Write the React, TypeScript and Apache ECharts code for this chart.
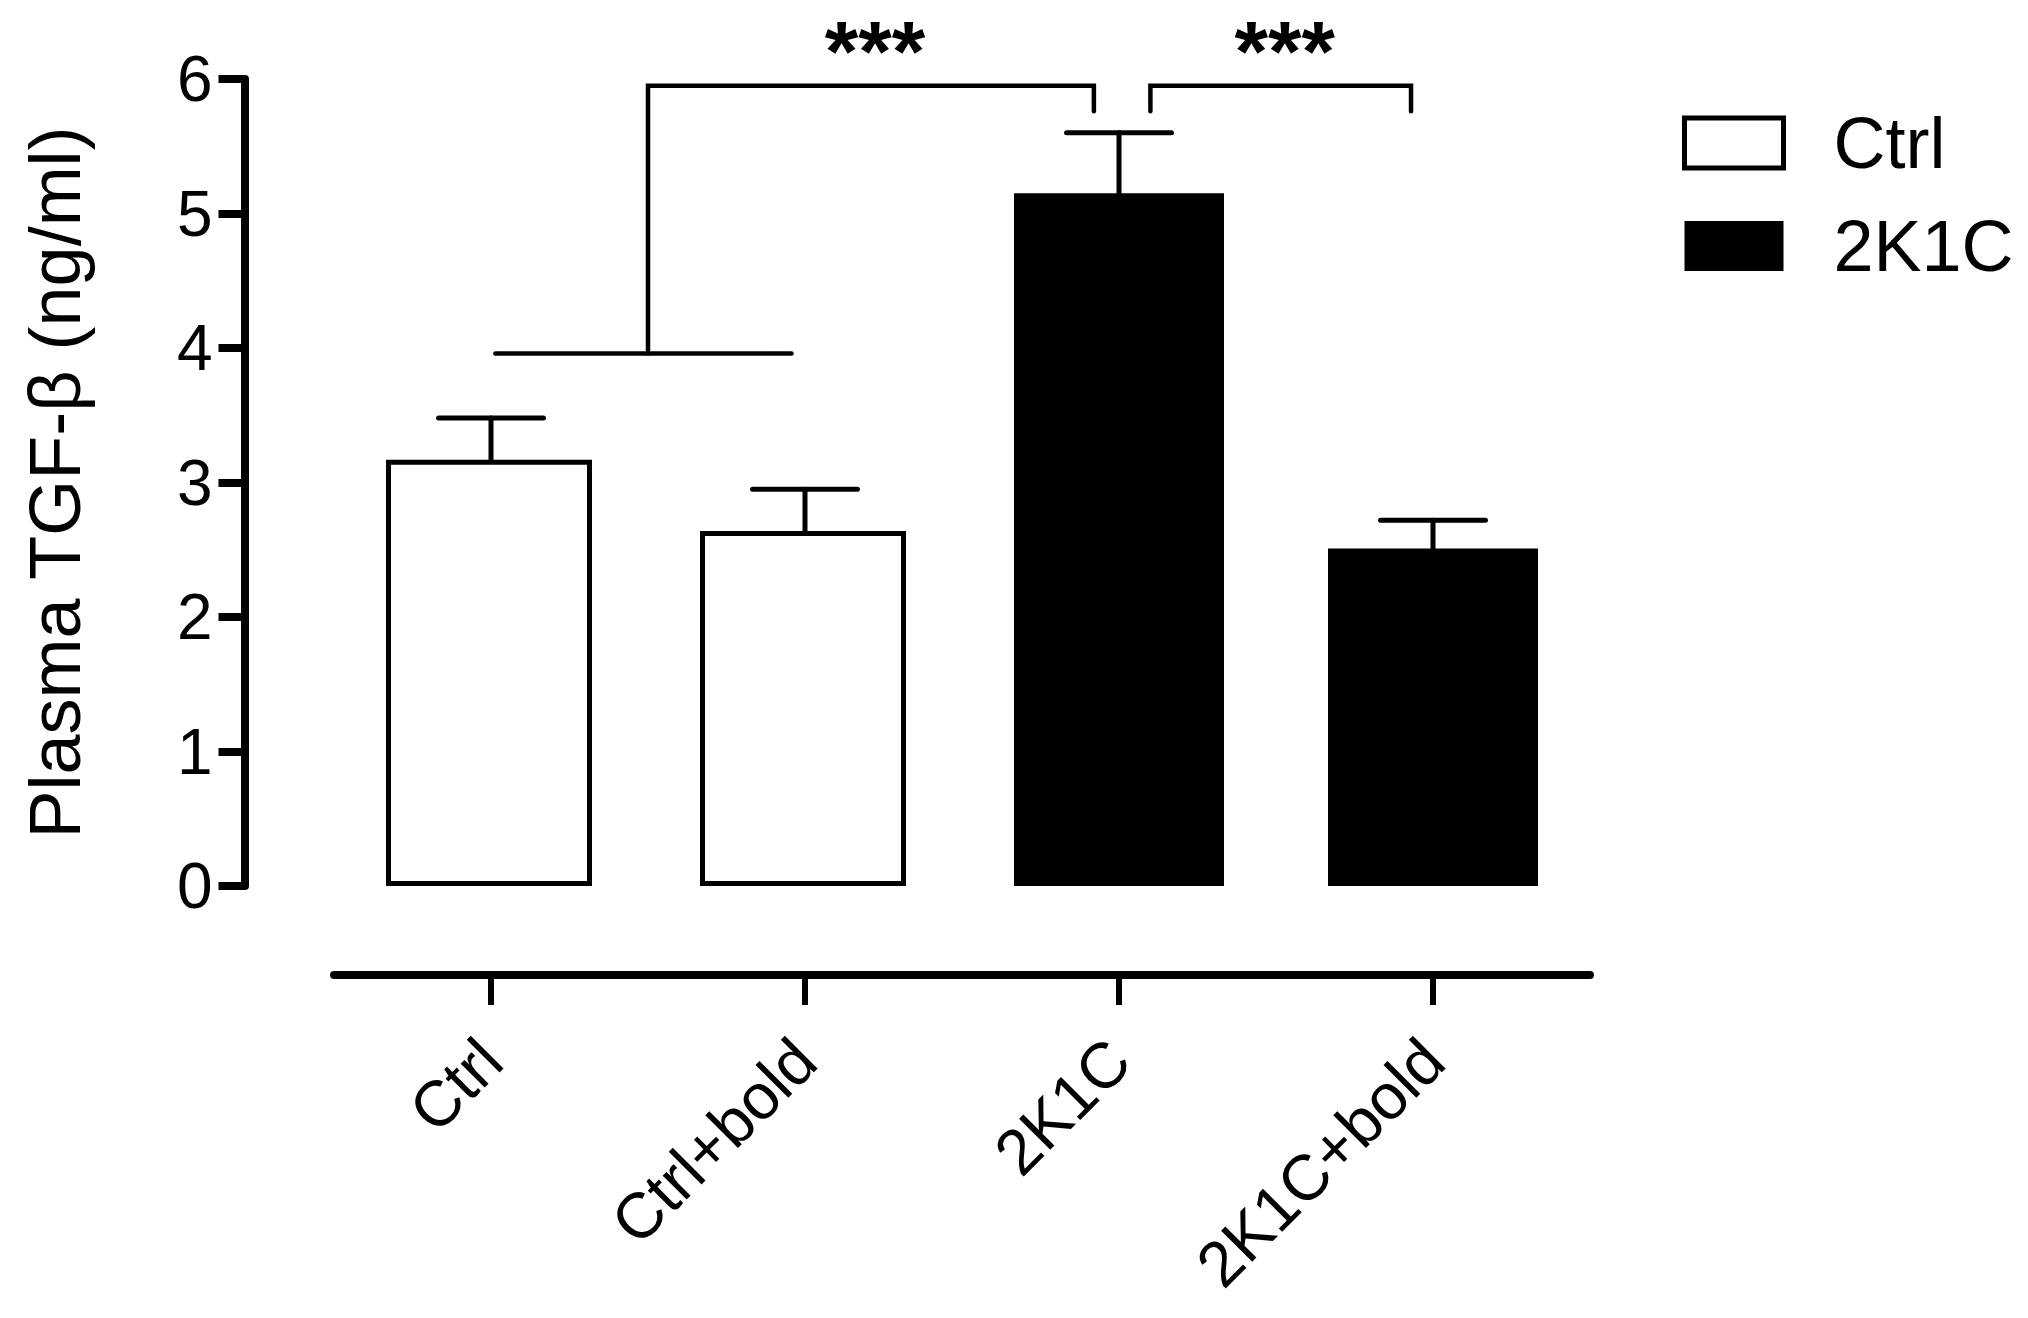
import React, { useEffect, useRef } from "react";
import * as echarts from "echarts";

const categories = ["Ctrl", "Ctrl+bold", "2K1C", "2K1C+bold"];
const seriesNames = ["Ctrl", "2K1C"];
const ctrlValues: (number | string)[] = [3.17, 2.64, "-", "-"];
const k1cValues: (number | string)[] = ["-", "-", 5.15, 2.51];
const meanValues = [3.17, 2.64, 5.15, 2.51];
const errorUpper = [3.48, 2.95, 5.6, 2.72];
const yMin = 0;
const yMax = 6;
const yInterval = 1;
const yAxisTitle = "Plasma TGF-β (ng/ml)";

// significance brackets (positions in category units, values in ng/ml)
const sigText = ["***", "***"];
const bracketFrom = [0.5, 2.1];
const bracketTo = [1.92, 2.93];
const bracketTop = [5.95, 5.95];
const bracketLeftEnd = [3.96, 5.76];
const bracketRightEnd = [5.76, 5.76];
const pooledFrom = 0.014;
const pooledTo = 0.957;
const pooledValue = 3.96;

const FONT = "'Liberation Sans', Arial, Helvetica, sans-serif";

export default function App() {
  const ref = useRef<HTMLDivElement>(null);
  useEffect(() => {
    const chart = echarts.init(ref.current!, null, { renderer: "svg" });
    const errorData = meanValues.map((m, i) => [i, m, errorUpper[i]]);
    const bracketData = bracketFrom.map((_, i) => [i, bracketTop[i]]);

    const option: any = {
      animation: false,
      backgroundColor: "#ffffff",
      textStyle: { fontFamily: FONT, color: "#000" },
      grid: { left: 334, right: 438, top: 79, bottom: 432, containLabel: false },
      legend: {
        orient: "vertical",
        left: 1677,
        top: 102,
        itemWidth: 99,
        itemHeight: 50,
        itemGap: 31,
        icon: "rect",
        textStyle: { fontSize: 72, fontFamily: FONT, color: "#000", padding: [0, 0, 0, 45] },
        data: [
          { name: seriesNames[0], itemStyle: { color: "#fff", borderColor: "#000", borderWidth: 5 } },
          { name: seriesNames[1], itemStyle: { color: "#000", borderWidth: 0 } },
        ],
      },
      xAxis: {
        type: "category",
        data: categories,
        offset: 89,
        axisLine: { show: true, onZero: false, lineStyle: { color: "#000", width: 8, cap: "round" } },
        axisTick: { show: true, alignWithLabel: true, length: 30, lineStyle: { color: "#000", width: 6 } },
        axisLabel: { rotate: 45, fontSize: 64, margin: 75, color: "#000", fontFamily: FONT },
        splitLine: { show: false },
      },
      yAxis: {
        type: "value",
        min: yMin,
        max: yMax,
        interval: yInterval,
        offset: 89.5,
        name: yAxisTitle,
        nameLocation: "middle",
        nameRotate: 90,
        nameGap: 154,
        nameTextStyle: { fontSize: 72, color: "#000", fontFamily: FONT },
        axisLine: { show: true, lineStyle: { color: "#000", width: 8 } },
        axisTick: { show: true, length: 26, lineStyle: { color: "#000", width: 8 } },
        axisLabel: { fontSize: 64, margin: 32, color: "#000", fontFamily: FONT },
        splitLine: { show: false },
      },
      series: [
        {
          name: seriesNames[0],
          type: "bar",
          data: ctrlValues,
          barWidth: 206,
          barGap: "-100%",
          itemStyle: { color: "#fff", borderColor: "#000", borderWidth: 5 },
        },
        {
          name: seriesNames[1],
          type: "bar",
          data: k1cValues,
          barWidth: 210,
          barGap: "-100%",
          itemStyle: { color: "#000" },
        },
        {
          name: "error",
          type: "custom",
          data: errorData,
          z: 5,
          renderItem: (params: any, api: any) => {
            const i = api.value(0);
            const top = api.coord([i, api.value(1)]);
            const cap = api.coord([i, api.value(2)]);
            const half = api.size([1, 0])[0] * 0.167;
            const style = { stroke: "#000", lineWidth: 5, lineCap: "round" };
            return {
              type: "group",
              children: [
                { type: "line", shape: { x1: top[0], y1: top[1], x2: cap[0], y2: cap[1] }, style },
                { type: "line", shape: { x1: cap[0] - half, y1: cap[1], x2: cap[0] + half, y2: cap[1] }, style },
              ],
            };
          },
        },
        {
          name: "significance",
          type: "custom",
          data: bracketData,
          z: 5,
          renderItem: (params: any, api: any) => {
            const k = params.dataIndex;
            const band = api.size([1, 0])[0];
            const x0 = api.coord([0, 0])[0];
            const px = (pos: number) => x0 + pos * band;
            const py = (v: number) => api.coord([0, v])[1];
            const style = { stroke: "#000", lineWidth: 4.5, lineCap: "round", fill: "none" };
            const xl = px(bracketFrom[k]);
            const xr = px(bracketTo[k]);
            const yt = py(bracketTop[k]);
            const children: any[] = [
              {
                type: "polyline",
                shape: { points: [[xl, py(bracketLeftEnd[k])], [xl, yt], [xr, yt], [xr, py(bracketRightEnd[k])]] },
                style,
              },
              {
                type: "text",
                style: {
                  text: sigText[k],
                  x: (xl + xr) / 2 + 4,
                  y: yt - 35,
                  align: "center",
                  verticalAlign: "middle",
                  fontSize: 86,
                  lineHeight: 44,
                  fontWeight: "bold",
                  fontFamily: FONT,
                  fill: "#000",
                },
              },
            ];
            if (k === 0) {
              children.push({
                type: "line",
                shape: { x1: px(pooledFrom), y1: py(pooledValue), x2: px(pooledTo), y2: py(pooledValue) },
                style,
              });
            }
            return { type: "group", children };
          },
        },
      ],
    };
    chart.setOption(option);
    return () => chart.dispose();
  }, []);
  return (
    <div
      ref={ref}
      style={{ position: "absolute", left: 0, top: 0, width: 2028, height: 1318, background: "#fff" }}
    />
  );
}
